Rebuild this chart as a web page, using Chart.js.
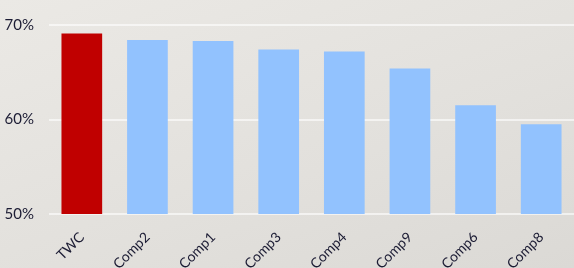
<!DOCTYPE html>
<html lang="en">
<head>
    <meta charset="UTF-8">
    <title>Comparison</title>
    <script src="https://cdn.jsdelivr.net/npm/chart.js"></script>
    <style>
        html, body { margin: 0; padding: 0; }
        body {
            width: 574px;
            height: 268px;
            overflow: hidden;
            background: linear-gradient(160deg, #ebe9e5 0%, #e2e0dc 60%, #dbd9d5 100%);
        }
        #wrap { position: relative; width: 574px; height: 268px; }
    </style>
</head>
<body>
    <div id="wrap"><canvas id="compChart"></canvas></div>
    <script>
        const categories = ['TWC', 'Comp2', 'Comp1', 'Comp3', 'Comp4', 'Comp9', 'Comp6', 'Comp8'];
        const values = [69.1, 68.4, 68.3, 67.4, 67.2, 65.4, 61.5, 59.5];
        const yTicks = [50, 60, 70];

        const textColor = '#1c1c34';
        const barColors = categories.map(c => c === 'TWC' ? '#c00000' : '#92c2fe');

        new Chart(document.getElementById('compChart'), {
            type: 'bar',
            data: {
                labels: categories,
                datasets: [{
                    data: values,
                    backgroundColor: barColors,
                    borderWidth: 0,
                    categoryPercentage: 1,
                    barPercentage: 0.62
                }]
            },
            options: {
                responsive: true,
                maintainAspectRatio: false,
                animation: false,
                layout: { padding: { top: 25, right: 0, left: 1, bottom: 0 } },
                plugins: {
                    legend: { display: false },
                    tooltip: { enabled: false }
                },
                scales: {
                    x: {
                        grid: { display: false },
                        border: { display: false },
                        ticks: {
                            color: textColor,
                            font: { family: 'Lato', size: 14 },
                            minRotation: 45,
                            maxRotation: 45,
                            padding: 7
                        },
                        afterFit: scale => { scale.height = 54; }
                    },
                    y: {
                        min: 50,
                        max: 70,
                        afterBuildTicks: scale => {
                            scale.ticks = yTicks.map(v => ({ value: v }));
                        },
                        grid: {
                            color: 'rgba(255,255,255,0.6)',
                            lineWidth: 2,
                            drawTicks: false
                        },
                        border: { display: false },
                        ticks: {
                            color: textColor,
                            font: { family: 'Lato', size: 15 },
                            padding: 15,
                            callback: v => v + '%'
                        },
                        afterFit: scale => { scale.width = 48; }
                    }
                }
            }
        });
    </script>
</body>
</html>
